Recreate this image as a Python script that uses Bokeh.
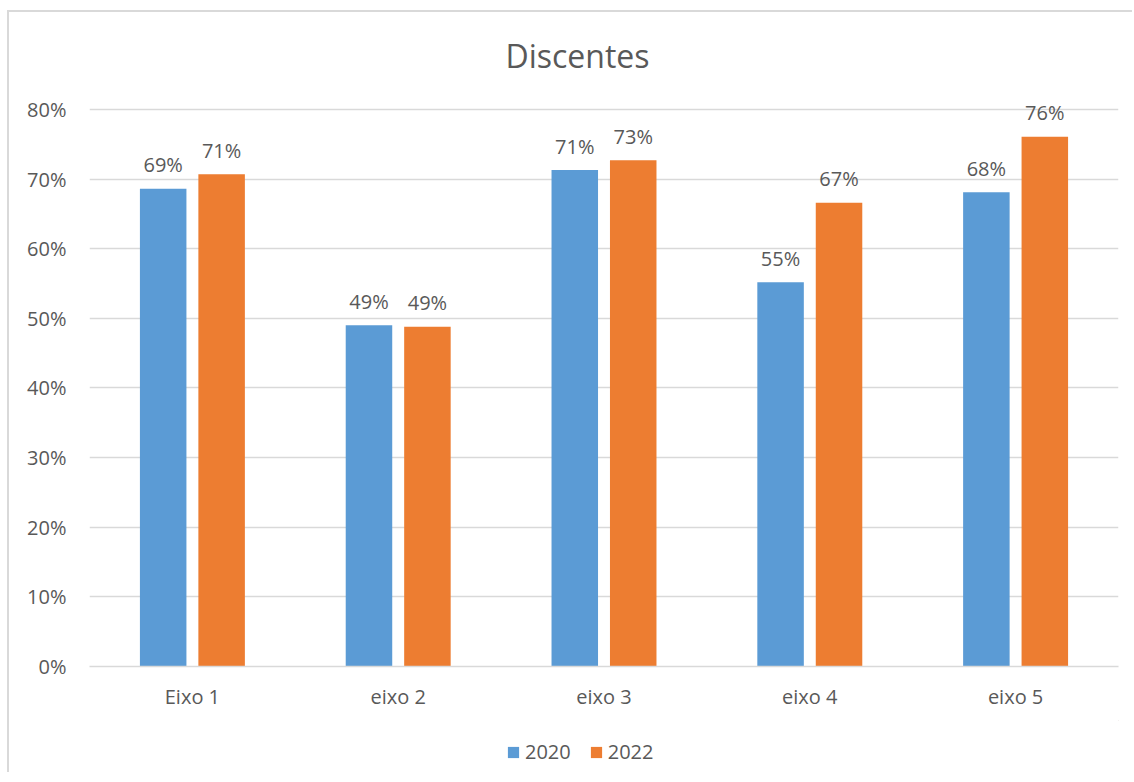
from bokeh.plotting import figure
from bokeh.layouts import column
from bokeh.models import (FactorRange, Range1d, FixedTicker, Legend, LegendItem,
                          Label, ColumnDataSource, NumeralTickFormatter)
from bokeh.transform import dodge
from bokeh.core.properties import value
from bokeh.embed import file_html
from bokeh.resources import INLINE

# ---- data ----
categories = ["Eixo 1", "eixo 2", "eixo 3", "eixo 4", "eixo 5"]
series_names = ["2020", "2022"]
values_2020 = [0.686, 0.490, 0.713, 0.552, 0.681]
values_2022 = [0.707, 0.488, 0.727, 0.666, 0.761]
y_ticks = [0.0, 0.1, 0.2, 0.3, 0.4, 0.5, 0.6, 0.7, 0.8]
title_text = "Discentes"

# ---- style ----
FONT = "Open Sans"
TXT = "#595959"
BLUE = "#5B9BD5"
ORANGE = "#ED7D31"
GRID = "#D9D9D9"

labels_2020 = [f"{round(v * 100)}%" for v in values_2020]
labels_2022 = [f"{round(v * 100)}%" for v in values_2022]

src = ColumnDataSource(dict(cats=categories, v2020=values_2020, v2022=values_2022,
                            l2020=labels_2020, l2022=labels_2022))

W = 1125
p = figure(width=W, height=708, x_range=FactorRange(*categories, range_padding=0),
           y_range=Range1d(0, 0.9393), output_backend="svg", toolbar_location=None,
           min_border_left=80, min_border_right=16, min_border_top=0, min_border_bottom=54)
p.outline_line_color = None
p.background_fill_color = "white"
p.border_fill_color = "white"

off = 0.142
bw = 0.226
p.vbar(x=dodge("cats", -off, range=p.x_range), top="v2020", width=bw, source=src,
       fill_color=BLUE, line_color=None)
p.vbar(x=dodge("cats", off, range=p.x_range), top="v2022", width=bw, source=src,
       fill_color=ORANGE, line_color=None)

for xo, col in ((-off, "2020"), (off, "2022")):
    p.text(x=dodge("cats", xo, range=p.x_range), y="v" + col, text="l" + col, source=src,
           text_align="center", text_baseline="alphabetic", y_offset=-24,
           text_font=value(FONT), text_font_size="20px", text_color=TXT)

# axes
ya = p.yaxis[0]
ya.ticker = FixedTicker(ticks=y_ticks)
ya.formatter = NumeralTickFormatter(format="0%")
ya.axis_line_color = None
ya.major_tick_line_color = None
ya.minor_tick_line_color = None
ya.major_tick_out = 0
ya.major_tick_in = 0
ya.minor_tick_out = 0
ya.major_label_standoff = 23
ya.major_label_text_font = FONT
ya.major_label_text_font_size = "20px"
ya.major_label_text_color = TXT

xa = p.xaxis[0]
xa.axis_line_color = GRID
xa.axis_line_width = 1.5
xa.major_tick_line_color = None
xa.minor_tick_line_color = None
xa.major_tick_out = 0
xa.major_tick_in = 0
xa.major_label_standoff = 16
xa.major_label_text_font = FONT
xa.major_label_text_font_size = "20px"
xa.major_label_text_color = TXT

p.xgrid.grid_line_color = None
p.ygrid.ticker = FixedTicker(ticks=y_ticks)
p.ygrid.grid_line_color = GRID
p.ygrid.grid_line_width = 1.3

# title
p.add_layout(Label(x=488, y=611, x_units="screen", y_units="screen", text=title_text,
                   text_align="center", text_baseline="middle", text_font=FONT,
                   text_font_size="32px", text_color=TXT))

# legend strip (frame aligned with the main plot's frame)
p2 = figure(width=W, height=54, output_backend="svg", toolbar_location=None,
            x_axis_type=None, y_axis_type=None, min_border=0,
            x_range=Range1d(0, 1), y_range=Range1d(0, 1))
p2.outline_line_color = None
p2.background_fill_color = "white"
p2.border_fill_color = "white"
# swatch renderers kept outside the visible range; only their legend glyphs show
g1 = p2.vbar(x=[5], top=[5], bottom=[4], width=0.1, fill_color=BLUE, line_color=None)
g2 = p2.vbar(x=[5], top=[5], bottom=[4], width=0.1, fill_color=ORANGE, line_color=None)

legend = Legend(items=[LegendItem(label=series_names[0], renderers=[g1]),
                       LegendItem(label=series_names[1], renderers=[g2])],
                location=(417, 9), orientation="horizontal")
legend.padding = 0
legend.margin = 0
legend.border_line_color = None
legend.background_fill_alpha = 0
legend.glyph_width = 14
legend.glyph_height = 14
legend.label_standoff = 5
legend.spacing = 18
legend.label_text_font = FONT
legend.label_text_font_size = "20px"
legend.label_text_color = TXT
p2.add_layout(legend, "center")

layout = column(p, p2, spacing=0,
                styles={"margin-left": "9px", "margin-top": "12px",
                        "box-shadow": "-2px -2px 0 0 #D9D9D9",
                        "background-color": "white"})

open("out.html", "w").write(file_html(layout, INLINE))
